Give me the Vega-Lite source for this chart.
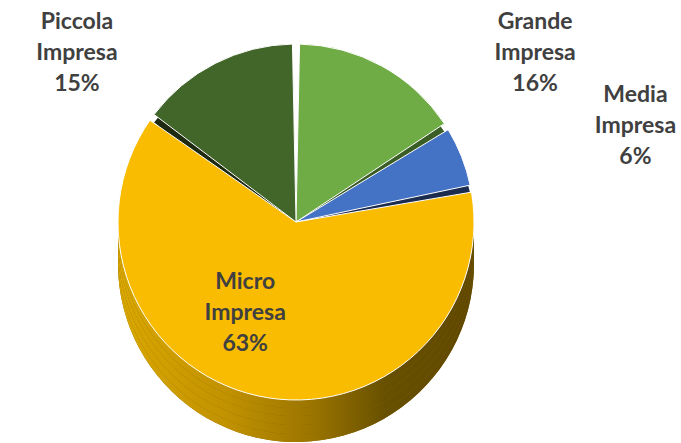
{
  "$schema": "https://vega.github.io/schema/vega-lite/v6.json",
  "width": 681,
  "height": 443,
  "autosize": {"type": "none"},
  "padding": 0,
  "background": "#ffffff",
  "config": {"view": {"stroke": null}},
  "data": {
    "values": [
      {"k": "Grande Impresa", "lab": "Grande\nImpresa\n16%", "v": 16, "o": 1},
      {"k": "Media Impresa", "lab": "Media\nImpresa\n6%", "v": 6, "o": 2},
      {"k": "Micro Impresa", "lab": "Micro\nImpresa\n63%", "v": 63, "o": 3},
      {"k": "Piccola Impresa", "lab": "Piccola\nImpresa\n15%", "v": 15, "o": 4}
    ]
  },
  "encoding": {
    "theta": {"field": "v", "type": "quantitative", "stack": true},
    "order": {"field": "o", "type": "quantitative"},
    "x": {"value": 296},
    "y": {"value": 222}
  },
  "resolve": {"scale": {"color": "independent"}},
  "layer": [
    {"mark": {"type": "arc", "radius": 178, "padAngle": 0.04, "yOffset": 42},
     "encoding": {"color": {"field": "k", "type": "nominal", "legend": null, "scale": {"domain": ["Grande Impresa", "Media Impresa", "Micro Impresa", "Piccola Impresa"], "range": ["#3b5e26", "#1b2c4f", "#8a6800", "#1d2911"]}}}},
    {"transform": [{"stack": "v", "groupby": [], "sort": [{"field": "o", "order": "ascending"}], "as": ["s0", "s1"]}, {"filter": "datum.k === 'Micro Impresa'"}],
     "mark": {"type": "arc", "radius": 178, "padAngle": 0.04, "yOffset": 42, "fill": {"gradient": "linear", "x1": 0, "x2": 1, "y1": 0, "y2": 0, "stops": [{"offset": 0, "color": "#daa800"}, {"offset": 0.3, "color": "#c29200"}, {"offset": 0.55, "color": "#9a7400"}, {"offset": 0.75, "color": "#675000"}, {"offset": 1, "color": "#604700"}]}},
     "encoding": {"theta": {"field": "s0", "type": "quantitative", "stack": null}, "theta2": {"field": "s1"}}},
    {"mark": {"type": "arc", "radius": 178, "padAngle": 0.04, "yOffset": 34},
     "encoding": {"color": {"field": "k", "type": "nominal", "legend": null, "scale": {"domain": ["Grande Impresa", "Media Impresa", "Micro Impresa", "Piccola Impresa"], "range": ["#3b5e26", "#1b2c4f", "#8a6800", "#1d2911"]}}}},
    {"transform": [{"stack": "v", "groupby": [], "sort": [{"field": "o", "order": "ascending"}], "as": ["s0", "s1"]}, {"filter": "datum.k === 'Micro Impresa'"}],
     "mark": {"type": "arc", "radius": 178, "padAngle": 0.04, "yOffset": 34, "fill": {"gradient": "linear", "x1": 0, "x2": 1, "y1": 0, "y2": 0, "stops": [{"offset": 0, "color": "#daa800"}, {"offset": 0.3, "color": "#c29200"}, {"offset": 0.55, "color": "#9a7400"}, {"offset": 0.75, "color": "#675000"}, {"offset": 1, "color": "#604700"}]}},
     "encoding": {"theta": {"field": "s0", "type": "quantitative", "stack": null}, "theta2": {"field": "s1"}}},
    {"mark": {"type": "arc", "radius": 178, "padAngle": 0.04, "yOffset": 25},
     "encoding": {"color": {"field": "k", "type": "nominal", "legend": null, "scale": {"domain": ["Grande Impresa", "Media Impresa", "Micro Impresa", "Piccola Impresa"], "range": ["#3b5e26", "#1b2c4f", "#8a6800", "#1d2911"]}}}},
    {"transform": [{"stack": "v", "groupby": [], "sort": [{"field": "o", "order": "ascending"}], "as": ["s0", "s1"]}, {"filter": "datum.k === 'Micro Impresa'"}],
     "mark": {"type": "arc", "radius": 178, "padAngle": 0.04, "yOffset": 25, "fill": {"gradient": "linear", "x1": 0, "x2": 1, "y1": 0, "y2": 0, "stops": [{"offset": 0, "color": "#daa800"}, {"offset": 0.3, "color": "#c29200"}, {"offset": 0.55, "color": "#9a7400"}, {"offset": 0.75, "color": "#675000"}, {"offset": 1, "color": "#604700"}]}},
     "encoding": {"theta": {"field": "s0", "type": "quantitative", "stack": null}, "theta2": {"field": "s1"}}},
    {"mark": {"type": "arc", "radius": 178, "padAngle": 0.04, "yOffset": 16},
     "encoding": {"color": {"field": "k", "type": "nominal", "legend": null, "scale": {"domain": ["Grande Impresa", "Media Impresa", "Micro Impresa", "Piccola Impresa"], "range": ["#3b5e26", "#1b2c4f", "#8a6800", "#1d2911"]}}}},
    {"transform": [{"stack": "v", "groupby": [], "sort": [{"field": "o", "order": "ascending"}], "as": ["s0", "s1"]}, {"filter": "datum.k === 'Micro Impresa'"}],
     "mark": {"type": "arc", "radius": 178, "padAngle": 0.04, "yOffset": 16, "fill": {"gradient": "linear", "x1": 0, "x2": 1, "y1": 0, "y2": 0, "stops": [{"offset": 0, "color": "#daa800"}, {"offset": 0.3, "color": "#c29200"}, {"offset": 0.55, "color": "#9a7400"}, {"offset": 0.75, "color": "#675000"}, {"offset": 1, "color": "#604700"}]}},
     "encoding": {"theta": {"field": "s0", "type": "quantitative", "stack": null}, "theta2": {"field": "s1"}}},
    {"mark": {"type": "arc", "radius": 178, "padAngle": 0.04, "yOffset": 8},
     "encoding": {"color": {"field": "k", "type": "nominal", "legend": null, "scale": {"domain": ["Grande Impresa", "Media Impresa", "Micro Impresa", "Piccola Impresa"], "range": ["#3b5e26", "#1b2c4f", "#8a6800", "#1d2911"]}}}},
    {"transform": [{"stack": "v", "groupby": [], "sort": [{"field": "o", "order": "ascending"}], "as": ["s0", "s1"]}, {"filter": "datum.k === 'Micro Impresa'"}],
     "mark": {"type": "arc", "radius": 178, "padAngle": 0.04, "yOffset": 8, "fill": {"gradient": "linear", "x1": 0, "x2": 1, "y1": 0, "y2": 0, "stops": [{"offset": 0, "color": "#daa800"}, {"offset": 0.3, "color": "#c29200"}, {"offset": 0.55, "color": "#9a7400"}, {"offset": 0.75, "color": "#675000"}, {"offset": 1, "color": "#604700"}]}},
     "encoding": {"theta": {"field": "s0", "type": "quantitative", "stack": null}, "theta2": {"field": "s1"}}},
    {
      "mark": {"type": "arc", "radius": 178, "padAngle": 0.04, "stroke": "#ffffff", "strokeWidth": 1},
      "encoding": {
        "color": {
          "field": "k",
          "type": "nominal",
          "scale": {
            "domain": ["Grande Impresa", "Media Impresa", "Micro Impresa", "Piccola Impresa"],
            "range": ["#6fac46", "#4472c4", "#f9bc00", "#42652a"]
          },
          "legend": null
        }
      }
    },
    {
      "mark": {"type": "text", "radius": 185, "dx": 150, "dy": -38, "font": "Lato", "fontWeight": "bold", "fontSize": 23, "lineHeight": 31, "lineBreak": "\n", "align": "center", "baseline": "middle", "fill": "#404040"},
      "encoding": {
        "text": {"field": "lab"},
        "opacity": {"condition": {"test": "datum.k === 'Grande Impresa'", "value": 1}, "value": 0}
      }
    },
    {
      "mark": {"type": "text", "radius": 250, "dx": 107, "dy": -35, "font": "Lato", "fontWeight": "bold", "fontSize": 23, "lineHeight": 31, "lineBreak": "\n", "align": "center", "baseline": "middle", "fill": "#404040"},
      "encoding": {
        "text": {"field": "lab"},
        "opacity": {"condition": {"test": "datum.k === 'Media Impresa'", "value": 1}, "value": 0}
      }
    },
    {
      "mark": {"type": "text", "radius": 100, "dx": -29, "dy": -38, "font": "Lato", "fontWeight": "bold", "fontSize": 23, "lineHeight": 31, "lineBreak": "\n", "align": "center", "baseline": "middle", "fill": "#404040"},
      "encoding": {
        "text": {"field": "lab"},
        "opacity": {"condition": {"test": "datum.k === 'Micro Impresa'", "value": 1}, "value": 0}
      }
    },
    {
      "mark": {"type": "text", "radius": 183, "dx": -136, "dy": -37, "font": "Lato", "fontWeight": "bold", "fontSize": 23, "lineHeight": 31, "lineBreak": "\n", "align": "center", "baseline": "middle", "fill": "#404040"},
      "encoding": {
        "text": {"field": "lab"},
        "opacity": {"condition": {"test": "datum.k === 'Piccola Impresa'", "value": 1}, "value": 0}
      }
    }
  ]
}
